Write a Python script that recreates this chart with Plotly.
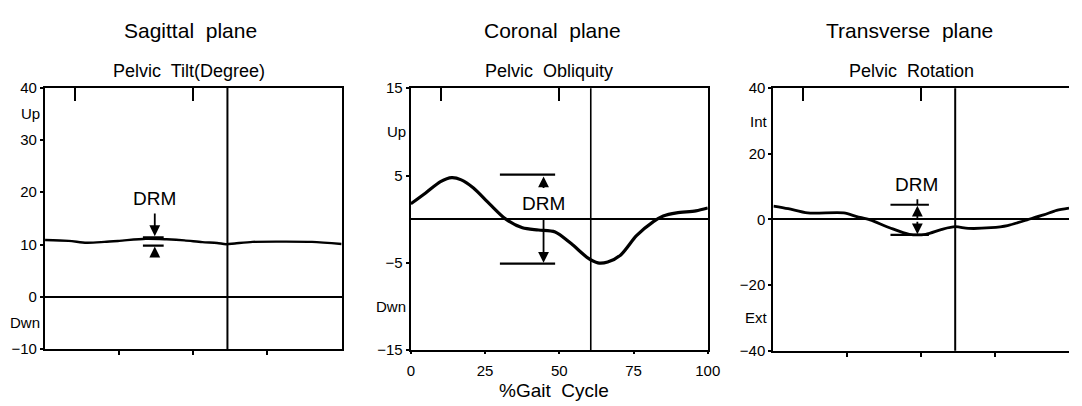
import plotly.graph_objects as go

# ---------------- data ----------------
gait_pct_tilt = [0, 8, 14, 20, 25, 34, 41, 47, 53, 58, 61, 64, 70, 80, 90, 100]
tilt_deg = [10.85, 10.7, 10.35, 10.5, 10.7, 11.1, 11.0, 10.8, 10.45, 10.3, 10.05, 10.2, 10.5, 10.55, 10.5, 10.1]

gait_pct_obl = [0, 5, 10, 13.8, 17, 21, 26.5, 32, 37.6, 43, 48.6, 54, 59.7, 63, 66.3, 70.7, 76, 81.8, 85, 89.5, 96, 100]
obliquity_deg = [1.76, 3.0, 4.3, 4.76, 4.5, 3.6, 1.76, 0.0, -0.99, -1.24, -1.46, -2.8, -4.46, -5.0, -4.9, -4.1, -1.9, -0.26, 0.37, 0.73, 0.95, 1.28]

gait_pct_rot = [0, 5, 11.6, 23.8, 28.2, 32.7, 39.3, 46, 51.5, 57, 61.5, 65.9, 73.6, 79.2, 85.8, 91.4, 95.8, 100]
rotation_deg = [4.1, 3.3, 2.0, 2.0, 0.9, -0.1, -2.5, -4.5, -4.5, -3.0, -2.2, -2.7, -2.5, -1.85, -0.1, 1.4, 2.8, 3.5]

toe_off_pct = [61.5, 60.6, 61.5]          # vertical line per panel
top_tick_pct = [10, 50]                   # inside ticks on top frame
bottom_tick_pct = [25, 50, 75]
x_tick_vals = [0, 25, 50, 75, 100]
x_tick_text = ["0", "25", "50", "75", "100"]

y_ranges = [[-10, 40], [-15, 15], [-40, 40]]
y_tick_vals = [[-10, 0, 10, 20, 30, 40], [-15, -5, 5, 15], [-40, -20, 0, 20, 40]]
dir_labels = [("Up", 35, "Dwn", -5), ("Up", 10, "Dwn", -10), ("Int", 30, "Ext", -30)]

plane_titles = ["Sagittal  plane", "Coronal  plane", "Transverse  plane"]
sub_titles = ["Pelvic  Tilt(Degree)", "Pelvic  Obliquity", "Pelvic  Rotation"]
x_title = "%Gait  Cycle"

# DRM brackets: [x_start, x_end], upper bar, lower bar, arrow x, label y
drm_bar_x = [[33, 40], [30, 48.6], [39.6, 52.6]]
drm_upper = [11.3, 5.1, 4.5]
drm_lower = [9.8, -5.1, -4.7]
drm_arrow_x = [37, 44.7, 48.7]
drm_label_y = [18.7, 1.76, 10.8]
drm_label_x = [37, 44.7, 48.5]

# ---------------- layout geometry ----------------
W, H = 1082, 406
FONT = "Liberation Sans, Arial, Helvetica, sans-serif"
x_domains = [[41.7 / W, 343 / W], [413.3 / W, 715 / W], [781.7 / W, 1.0]]
y_domains = [[1 - 355 / H, 1 - 82 / H], [1 - 356 / H, 1 - 82.7 / H], [1 - 356.7 / H, 1 - 82.7 / H]]

fig = go.Figure()

curves = [(gait_pct_tilt, tilt_deg, 2.4), (gait_pct_obl, obliquity_deg, 3.2), (gait_pct_rot, rotation_deg, 2.8)]
for i, (xs, ys, lw) in enumerate(curves):
    sx = "x" if i == 0 else f"x{i+1}"
    sy = "y" if i == 0 else f"y{i+1}"
    fig.add_trace(go.Scatter(x=xs, y=ys, xaxis=sx, yaxis=sy, mode="lines",
                             line=dict(color="black", width=lw, shape="spline", smoothing=0.8),
                             showlegend=False, hoverinfo="skip"))
    # DRM bars
    fig.add_trace(go.Scatter(x=drm_bar_x[i], y=[drm_upper[i]] * 2, xaxis=sx, yaxis=sy, mode="lines",
                             line=dict(color="black", width=3 if i == 0 else 2.2), showlegend=False, hoverinfo="skip"))
    fig.add_trace(go.Scatter(x=drm_bar_x[i], y=[drm_lower[i]] * 2, xaxis=sx, yaxis=sy, mode="lines",
                             line=dict(color="black", width=2.2), showlegend=False, hoverinfo="skip"))

layout = dict(width=W, height=H, autosize=False, margin=dict(l=0, r=0, t=0, b=0),
              paper_bgcolor="white", plot_bgcolor="white",
              font=dict(family=FONT, color="black", size=15), showlegend=False)

annotations = []
shapes = []
for i in range(3):
    xk = "xaxis" if i == 0 else f"xaxis{i+1}"
    yk = "yaxis" if i == 0 else f"yaxis{i+1}"
    xr = "x" if i == 0 else f"x{i+1}"
    yr = "y" if i == 0 else f"y{i+1}"
    if i == 1:
        xticks = dict(tickvals=x_tick_vals, ticktext=x_tick_text, ticks="outside", ticklen=2, tickwidth=1.5,
                      tickcolor="black", showticklabels=True,
                      tickfont=dict(size=15, family=FONT), ticklabelstandoff=4)
    else:
        xticks = dict(tickvals=bottom_tick_pct, ticks="outside", ticklen=4, tickwidth=2,
                      tickcolor="black", showticklabels=False)
    layout[xk] = dict(domain=x_domains[i], range=[0, 100], anchor=yr, showgrid=False, zeroline=False,
                      showline=True, linecolor="black", linewidth=2.2, mirror=True, fixedrange=True, **xticks)
    layout[yk] = dict(domain=y_domains[i], range=y_ranges[i], anchor=xr, showgrid=False,
                      zeroline=True, zerolinecolor="black", zerolinewidth=2 if i != 1 else 1.6,
                      showline=True, linecolor="black", linewidth=2.2, mirror=(i != 2),
                      tickvals=y_tick_vals[i], ticks="outside", ticklen=3, tickwidth=2, tickcolor="black",
                      tickfont=dict(size=15, family=FONT), fixedrange=True)
    # top inside ticks via overlay axis
    ok = f"xaxis{i+4}"
    layout[ok] = dict(domain=x_domains[i], range=[0, 100], anchor=yr, overlaying=xr, side="top",
                      tickvals=top_tick_pct, ticks="inside", ticklen=13, tickwidth=2, tickcolor="black",
                      showticklabels=False, showgrid=False, zeroline=False, showline=False, fixedrange=True)
    # toe-off vertical line
    shapes.append(dict(type="line", xref=xr, yref=f"{yr} domain", x0=toe_off_pct[i], x1=toe_off_pct[i],
                       y0=0, y1=1, line=dict(color="black", width=2 if i != 1 else 1.6)))
    # direction labels
    u_txt, u_val, d_txt, d_val = dir_labels[i]
    for txt, val in ((u_txt, u_val), (d_txt, d_val)):
        annotations.append(dict(text=txt, xref="paper", yref=yr, x=x_domains[i][0], y=val,
                                xanchor="right", yanchor="middle", xshift=-3, showarrow=False,
                                font=dict(size=15, family=FONT)))
    # titles
    title_x = [189 / W, 557 / W, 920 / W][i]
    sub_x = [188 / W, 554 / W, 922 / W][i]
    annotations.append(dict(text=plane_titles[i], xref="paper", yref="paper", x=title_x, y=1 - 22 / H,
                            xanchor="center", yanchor="middle", showarrow=False, font=dict(size=21, family=FONT)))
    annotations.append(dict(text=sub_titles[i], xref="paper", yref="paper", x=sub_x, y=1 - 65 / H,
                            xanchor="center", yanchor="middle", showarrow=False, font=dict(size=18, family=FONT)))
    # DRM label
    annotations.append(dict(text="DRM", xref=xr, yref=yr, x=drm_label_x[i], y=drm_label_y[i],
                            xanchor="center", yanchor="middle", showarrow=False, font=dict(size=19, family=FONT)))

# DRM arrows (head -> tail)
ax_p = drm_arrow_x
arrows = [
    (0, drm_upper[0] + 0.3, 16.2), (0, drm_lower[0] - 0.2, 7.7),
    (1, drm_upper[1] - 0.2, 3.4), (1, drm_lower[1] + 0.1, 0.1),
    (2, drm_upper[2] - 0.3, -0.2), (2, drm_lower[2] + 0.2, -0.2),
]
for i, head, tail in arrows:
    xr = "x" if i == 0 else f"x{i+1}"
    yr = "y" if i == 0 else f"y{i+1}"
    annotations.append(dict(text="", xref=xr, yref=yr, axref=xr, ayref=yr, x=ax_p[i], y=head,
                            ax=ax_p[i], ay=tail, showarrow=True, arrowhead=2, arrowsize=1.2,
                            arrowwidth=1.8, arrowcolor="black"))
# panel 3 line above upper bar
fig.add_trace(go.Scatter(x=[drm_arrow_x[2], drm_arrow_x[2]], y=[drm_upper[2], 6.2], xaxis="x3", yaxis="y3",
                         mode="lines", line=dict(color="black", width=1.8), showlegend=False, hoverinfo="skip"))

annotations.append(dict(text=x_title, xref="paper", yref="paper", x=559 / W, y=0.0,
                        xanchor="center", yanchor="bottom", yshift=-5, showarrow=False,
                        font=dict(size=19, family=FONT)))

layout["annotations"] = annotations
layout["shapes"] = shapes
fig.update_layout(**layout)

# dummy traces to activate overlay axes
for i in range(3):
    fig.add_trace(go.Scatter(x=[None], y=[None], xaxis=f"x{i+4}", yaxis="y" if i == 0 else f"y{i+1}",
                             showlegend=False, hoverinfo="skip"))

fig.write_html("out.html", config={"displayModeBar": False})
